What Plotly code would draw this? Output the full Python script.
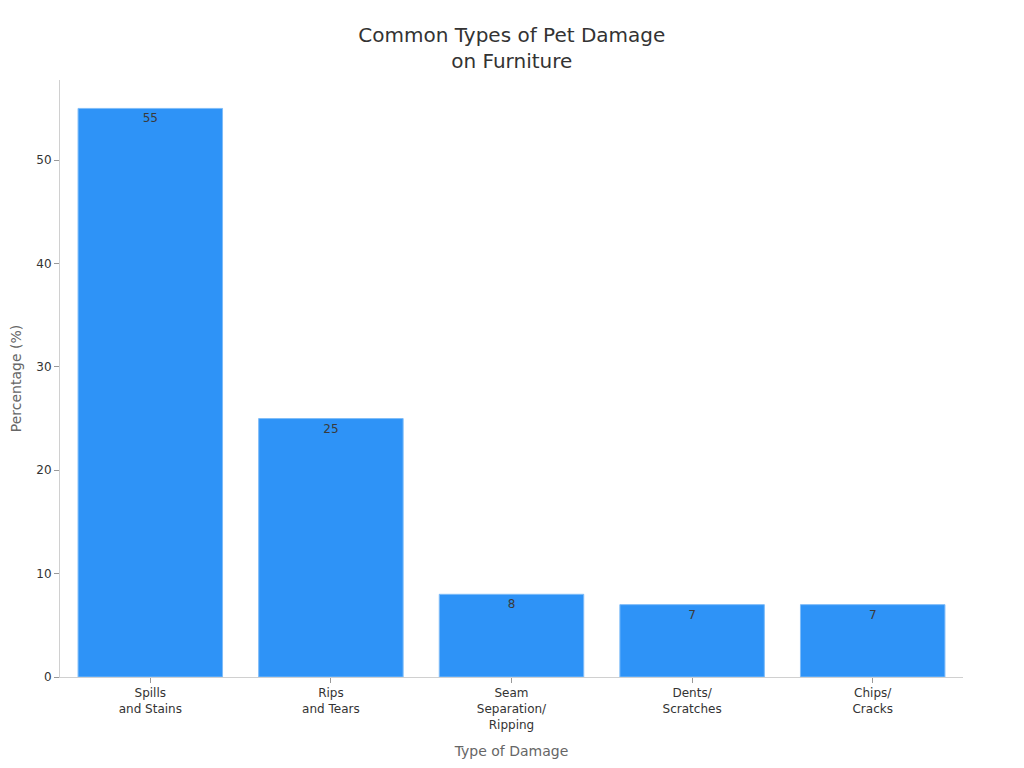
import plotly.graph_objects as go

categories = ["Spills<br>and Stains", "Rips<br>and Tears", "Seam<br>Separation/<br>Ripping",
              "Dents/<br>Scratches", "Chips/<br>Cracks"]
percentages = [55, 25, 8, 7, 7]

fig = go.Figure()
fig.add_trace(go.Bar(
    x=categories,
    y=percentages,
    text=percentages,
    textposition="inside",
    insidetextanchor="end",
    textfont=dict(color="#3a3a3a", size=12),
    marker=dict(color="#2E93F7", line=dict(color="#7FBCF8", width=1)),
))

fig.update_layout(
    width=1024, height=768,
    title=dict(text="Common Types of Pet Damage<br>on Furniture", x=0.492, xanchor="center",
               y=0.956, font=dict(size=20, color="#333333")),
    font=dict(family="DejaVu Sans", color="#333333", size=12),
    plot_bgcolor="white", paper_bgcolor="white",
    margin=dict(l=52, r=69, t=72, b=99),
    bargap=0.2,
    showlegend=False,
    xaxis=dict(title=dict(text="Type of Damage", font=dict(size=14, color="#666666")),
               showline=True, linecolor="#d0d0d0", ticks="outside", tickcolor="#999999",
               ticklen=5, showgrid=False, automargin=False),
    yaxis=dict(title=dict(text="Percentage (%)", font=dict(size=14, color="#666666")),
               range=[0, 57.75], showline=True, linecolor="#d0d0d0", ticks="outside",
               tickcolor="#999999", ticklen=5, showgrid=False, zeroline=False,
               automargin=False),
)

fig.write_html("out.html")
